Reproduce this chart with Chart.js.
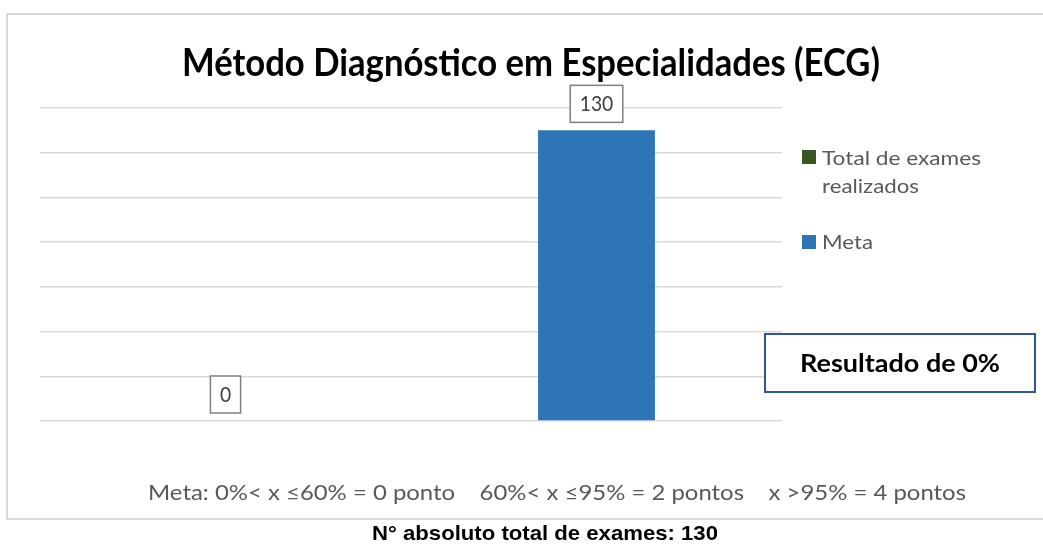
<!DOCTYPE html>
<html>
<head>
<meta charset="utf-8">
<script src="https://cdn.jsdelivr.net/npm/chart.js@4.4.1/dist/chart.umd.min.js"></script>
<style>
  html, body { margin: 0; padding: 0; background: #ffffff; }
  #wrap { position: relative; width: 1043px; height: 546px; }
  canvas { display: block; }
</style>
</head>
<body>
<div id="wrap"><canvas id="c" width="1043" height="546"></canvas></div>
<script>
// ---- data ----
const chartTitle = 'Método Diagnóstico em Especialidades (ECG)';
const categories = ['Total de exames realizados', 'Meta'];
const seriesNames = ['Total de exames realizados', 'Meta'];
const totalValues = [0, null];
const metaValues = [null, 130];
const yMin = 0, yMax = 140, yStep = 20;
const resultText = 'Resultado de 0%';
const footerMeta = 'Meta: 0%< x \u226460% = 0 ponto    60%< x \u226495% = 2 pontos    x >95% = 4 pontos';
const footerTotal = 'N\u00b0 absoluto total de exames: 130';

const colors = ['#385723', '#2e75b6'];

function drawText(ctx, text, x, y, o) {
  ctx.save();
  ctx.font = (o.weight || 'normal') + ' ' + o.size + 'px ' + o.family;
  ctx.fillStyle = o.color || '#000';
  ctx.textBaseline = 'alphabetic';
  ctx.textAlign = 'left';
  const w = ctx.measureText(text).width;
  const sx = o.width ? o.width / w : 1;
  const realW = w * sx;
  let left = x;
  if (o.align === 'center') left = x - realW / 2;
  else if (o.align === 'right') left = x - realW;
  ctx.translate(left, y);
  ctx.scale(sx, 1);
  ctx.fillText(text, 0, 0);
  ctx.restore();
}

const decor = {
  id: 'decor',
  beforeDraw(chart) {
    const ctx = chart.ctx;
    ctx.save();
    ctx.fillStyle = '#ffffff';
    ctx.fillRect(0, 0, chart.width, chart.height);
    ctx.strokeStyle = '#d9d9d9';
    ctx.lineWidth = 2;
    ctx.strokeRect(7, 14, 1060, 505);
    ctx.restore();
  },
  afterDraw(chart) {
    const ctx = chart.ctx;
    // title
    drawText(ctx, chartTitle, 531, 76, {size: 38, weight: 'bold', family: 'Lato', color: '#000000', align: 'center', width: 698});
    // legend
    const items = chart.data.datasets;
    ctx.save();
    ctx.fillStyle = items[0].backgroundColor;
    ctx.fillRect(802, 150, 14, 14);
    ctx.fillStyle = items[1].backgroundColor;
    ctx.fillRect(802, 235, 14, 14);
    ctx.restore();
    drawText(ctx, 'Total de exames', 822, 165, {size: 20, family: 'Lato', color: '#595959', width: 159});
    drawText(ctx, 'realizados', 822, 193, {size: 20, family: 'Lato', color: '#595959', width: 97});
    drawText(ctx, items[1].label, 822, 249, {size: 20, family: 'Lato', color: '#595959', width: 51});

    // data labels
    chart.data.datasets.forEach((ds, di) => {
      const meta = chart.getDatasetMeta(di);
      meta.data.forEach((bar, i) => {
        const v = ds.data[i];
        if (v === null || v === undefined) return;
        const txt = String(v);
        ctx.save();
        ctx.font = '21px Lato';
        const tw = ctx.measureText(txt).width * 0.92;
        const bw = tw + 19, bh = 37;
        const bx = bar.x - bw / 2;
        const by = bar.y - 8 - bh;
        ctx.strokeStyle = '#7f7f7f';
        ctx.lineWidth = 1.5;
        ctx.fillStyle = '#ffffff';
        ctx.fillRect(bx, by, bw, bh);
        ctx.strokeRect(bx, by, bw, bh);
        ctx.restore();
        drawText(ctx, txt, bar.x, by + bh / 2 + 7.5, {size: 21, family: 'Lato', color: '#404040', align: 'center', width: tw});
      });
    });

    // result box
    ctx.save();
    ctx.fillStyle = '#ffffff';
    ctx.fillRect(765, 334, 270, 58);
    ctx.strokeStyle = '#2f5597';
    ctx.lineWidth = 2;
    ctx.strokeRect(765, 334, 270, 58);
    ctx.restore();
    drawText(ctx, resultText, 900, 372, {size: 24, weight: 'bold', family: 'Lato', color: '#000000', align: 'center', width: 200});

    // footers
    drawText(ctx, footerMeta, 557, 500, {size: 22, family: 'Lato', color: '#595959', align: 'center', width: 818});
    drawText(ctx, footerTotal, 545, 540, {size: 21, weight: 'bold', family: 'Liberation Sans', color: '#000000', align: 'center', width: 346});
  }
};

new Chart(document.getElementById('c'), {
  type: 'bar',
  data: {
    labels: categories,
    datasets: [
      { label: seriesNames[0], data: totalValues, backgroundColor: colors[0], borderWidth: 0 },
      { label: seriesNames[1], data: metaValues, backgroundColor: colors[1], borderWidth: 0 }
    ]
  },
  options: {
    responsive: false,
    animation: false,
    devicePixelRatio: 1,
    skipNull: true,
    categoryPercentage: 0.63,
    barPercentage: 0.5,
    layout: { padding: { left: 40, right: 261, top: 108, bottom: 125 } },
    plugins: { legend: { display: false }, title: { display: false }, tooltip: { enabled: false } },
    scales: {
      x: {
        grid: { display: false, drawTicks: false },
        border: { display: false },
        ticks: { display: false }
      },
      y: {
        min: yMin, max: yMax,
        ticks: { display: false, stepSize: yStep },
        grid: { color: '#d9d9d9', lineWidth: 1.5, drawTicks: false },
        border: { display: false }
      }
    }
  },
  plugins: [decor]
});
</script>
</body>
</html>
